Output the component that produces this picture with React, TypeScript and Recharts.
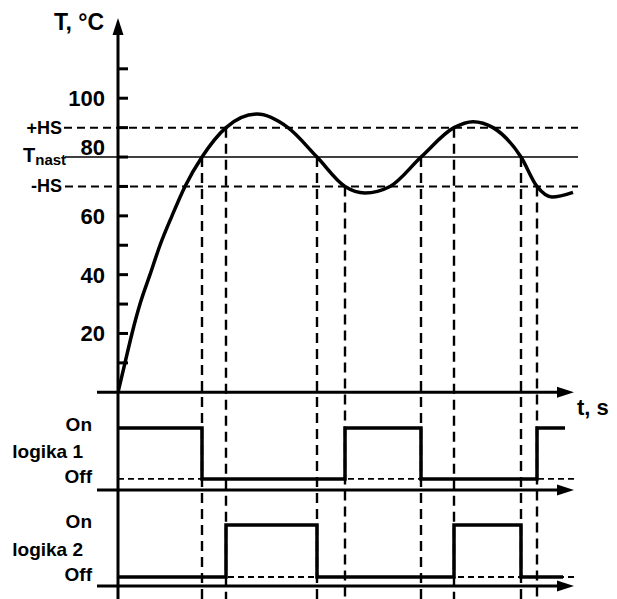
import { ComposedChart, Line, XAxis, YAxis, ReferenceLine, ReferenceDot } from 'recharts';

// temperature curve (t in s, T in °C)
const TIME = [0, 0.7, 1.4, 2.2, 3.2, 4.2, 5.4, 6.7, 8.4, 10.8, 13.9, 17.0, 19.9, 22.7, 24.7, 27.2, 30.3, 33.6, 35.5, 37.5, 40.3, 41.9, 43.4, 45.5];
const TEMP = [0, 10, 20, 30, 40, 50, 60, 70, 80, 90, 94.6, 90, 80, 70, 67.8, 70, 80, 90, 92, 90, 80, 70, 66.4, 68];

// relay outputs (1 = On, 0 = Off)
const L1_TIME = [0, 8.4, 22.7, 30.3, 41.9, 44.7];
const L1_STATE = [1, 0, 1, 0, 1, 1];
const L2_TIME = [0, 10.8, 19.9, 33.6, 40.3, 44.5];
const L2_STATE = [0, 1, 0, 1, 0, 0];

// moments where the curve crosses a threshold
const SWITCH_TIME = [8.4, 10.8, 19.9, 22.7, 30.3, 33.6, 40.3, 41.9];
const SWITCH_TEMP = [80, 90, 80, 70, 80, 90, 80, 70];

const T_SET = 80;
const HS = 10;
const T_TICKS = [10, 20, 30, 40, 50, 60, 70, 80, 90, 100, 110];
const T_LABELS = [20, 40, 60, 80, 100];

// layout of the whole sheet in temperature units
const Y_MIN = -70.3;
const Y_MAX = 124.9;
const X_MAX = 46;
const L1_ON = -12.14;
const L1_OFF = -29.48;
const SEP1 = -33.2;
const L2_ON = -45.13;
const L2_OFF = -62.81;
const SEP2 = -65.87;

const FONT = '"Liberation Sans", Arial, sans-serif';

const curveData = TIME.map((t, i) => ({ t, T: TEMP[i] }));
const l1Data = L1_TIME.map((t, i) => ({ t, v: L1_OFF + L1_STATE[i] * (L1_ON - L1_OFF) }));
const l2Data = L2_TIME.map((t, i) => ({ t, v: L2_OFF + L2_STATE[i] * (L2_ON - L2_OFF) }));

const logicTicks: Record<string, { text: string; kind: string }> = {
  [L1_ON]: { text: 'On', kind: 'on' },
  [(L1_ON + L1_OFF) / 2]: { text: 'logika 1', kind: 'name' },
  [L1_OFF]: { text: 'Off', kind: 'off' },
  [L2_ON]: { text: 'On', kind: 'on' },
  [(L2_ON + L2_OFF) / 2]: { text: 'logika 2', kind: 'name' },
  [L2_OFF]: { text: 'Off', kind: 'off' },
};
const allTicks = [...T_TICKS, ...Object.keys(logicTicks).map(Number)];

function YTick(props: any) {
  const { x, y, payload } = props;
  const v = payload.value;
  const txt = { fontFamily: FONT, fontWeight: 700, fill: '#000' };
  const logic = logicTicks[String(v)];
  if (logic) {
    const dx = logic.kind === 'name' ? -35 : -26;
    const dy = logic.kind === 'on' ? 3 : logic.kind === 'name' ? 5 : 4;
    return (
      <text x={x + dx} y={y + dy} textAnchor="end" fontSize={19} style={txt}>
        {logic.text}
      </text>
    );
  }
  return (
    <g>
      <line x1={x} x2={x + 10} y1={y} y2={y} stroke="#000" strokeWidth={3} />
      {T_LABELS.includes(v) && (
        <text x={x - 13} y={v === T_SET ? y - 2 : y + 8} textAnchor="end" fontSize={22} style={txt}>
          {v}
        </text>
      )}
      {v === T_SET + HS && (
        <text x={x - 56} y={y + 6} textAnchor="end" fontSize={18} style={txt}>+HS</text>
      )}
      {v === T_SET - HS && (
        <text x={x - 56} y={y + 6} textAnchor="end" fontSize={18} style={txt}>-HS</text>
      )}
      {v === T_SET && (
        <text x={x - 95} y={y + 5} fontSize={20} style={txt}>
          T<tspan fontSize={15} dy={3}>nast</tspan>
        </text>
      )}
    </g>
  );
}

const ArrowRight = (props: any) => {
  const { cx, cy } = props;
  return <polygon points={`${cx},${cy} ${cx - 17},${cy - 5.5} ${cx - 17},${cy + 5.5}`} fill="#000" />;
};

const ArrowRightT = (props: any) => {
  const { cx, cy } = props;
  return (
    <g>
      <ArrowRight cx={cx} cy={cy} />
      <text x={cx + 3} y={cy + 23} fontSize={22} fontFamily={FONT} fontWeight={700} fill="#000">t, s</text>
    </g>
  );
};

const ArrowUp = (props: any) => {
  const { cx, cy } = props;
  return (
    <g>
      <polygon points={`${cx},${cy - 7} ${cx - 5.5},${cy + 10} ${cx + 5.5},${cy + 10}`} fill="#000" />
      <text x={cx - 14} y={cy + 5} textAnchor="end" fontSize={23} fontFamily={FONT} fontWeight={700} fill="#000">
        T, °C
      </text>
    </g>
  );
};

export default function App() {
  return (
    <div style={{ position: 'absolute', left: 0, top: 0, width: 617, height: 599, background: '#fff' }}>
      <ComposedChart width={617} height={599} margin={{ top: 25, right: 39, bottom: 0, left: 0 }}>
        <XAxis type="number" dataKey="t" domain={[0, X_MAX]} hide allowDataOverflow />
        <YAxis
          type="number"
          domain={[Y_MIN, Y_MAX]}
          ticks={allTicks}
          interval={0}
          width={118}
          tickSize={0}
          tickMargin={0}
          tickLine={false}
          axisLine={{ stroke: '#000', strokeWidth: 3 }}
          tick={(p: any) => <YTick {...p} />}
          allowDataOverflow
        />

        {/* hysteresis band and setpoint */}
        <ReferenceLine segment={[{ x: -5.4, y: T_SET + HS }, { x: X_MAX, y: T_SET + HS }]} stroke="#000" strokeWidth={2} strokeDasharray="8 5" ifOverflow="visible" />
        <ReferenceLine segment={[{ x: -5.3, y: T_SET }, { x: X_MAX, y: T_SET }]} stroke="#000" strokeWidth={1.6} ifOverflow="visible" />
        <ReferenceLine segment={[{ x: -5.3, y: T_SET - HS }, { x: X_MAX, y: T_SET - HS }]} stroke="#000" strokeWidth={2} strokeDasharray="8 5" ifOverflow="visible" />

        {/* switching moments */}
        {SWITCH_TIME.map((t, i) => (
          <ReferenceLine key={i} segment={[{ x: t, y: SWITCH_TEMP[i] }, { x: t, y: Y_MIN }]} stroke="#000" strokeWidth={2.4} strokeDasharray="10 6" ifOverflow="visible" />
        ))}

        {/* Off levels */}
        <ReferenceLine segment={[{ x: 0, y: L1_OFF }, { x: 45.9, y: L1_OFF }]} stroke="#000" strokeWidth={1.8} strokeDasharray="6 4" ifOverflow="visible" />
        <ReferenceLine segment={[{ x: 0, y: L2_OFF }, { x: 45.9, y: L2_OFF }]} stroke="#000" strokeWidth={1.8} strokeDasharray="6 4" ifOverflow="visible" />

        {/* time axes */}
        {[0, SEP1, SEP2].map((y) => (
          <ReferenceLine key={y} segment={[{ x: -2.1, y }, { x: 44.5, y }]} stroke="#000" strokeWidth={3} ifOverflow="visible" />
        ))}
        <ReferenceDot x={45.6} y={0} r={0} shape={ArrowRightT} ifOverflow="visible" />
        <ReferenceDot x={45.6} y={SEP1} r={0} shape={ArrowRight} ifOverflow="visible" />
        <ReferenceDot x={45.6} y={SEP2} r={0} shape={ArrowRight} ifOverflow="visible" />
        <ReferenceDot x={0} y={Y_MAX} r={0} shape={ArrowUp} ifOverflow="visible" />

        <Line data={curveData} dataKey="T" type="monotone" stroke="#000" strokeWidth={3.5} dot={false} isAnimationActive={false} />
        <Line data={l1Data} dataKey="v" type="stepAfter" stroke="#000" strokeWidth={3.5} dot={false} isAnimationActive={false} />
        <Line data={l2Data} dataKey="v" type="stepAfter" stroke="#000" strokeWidth={3.5} dot={false} isAnimationActive={false} />
      </ComposedChart>
    </div>
  );
}
